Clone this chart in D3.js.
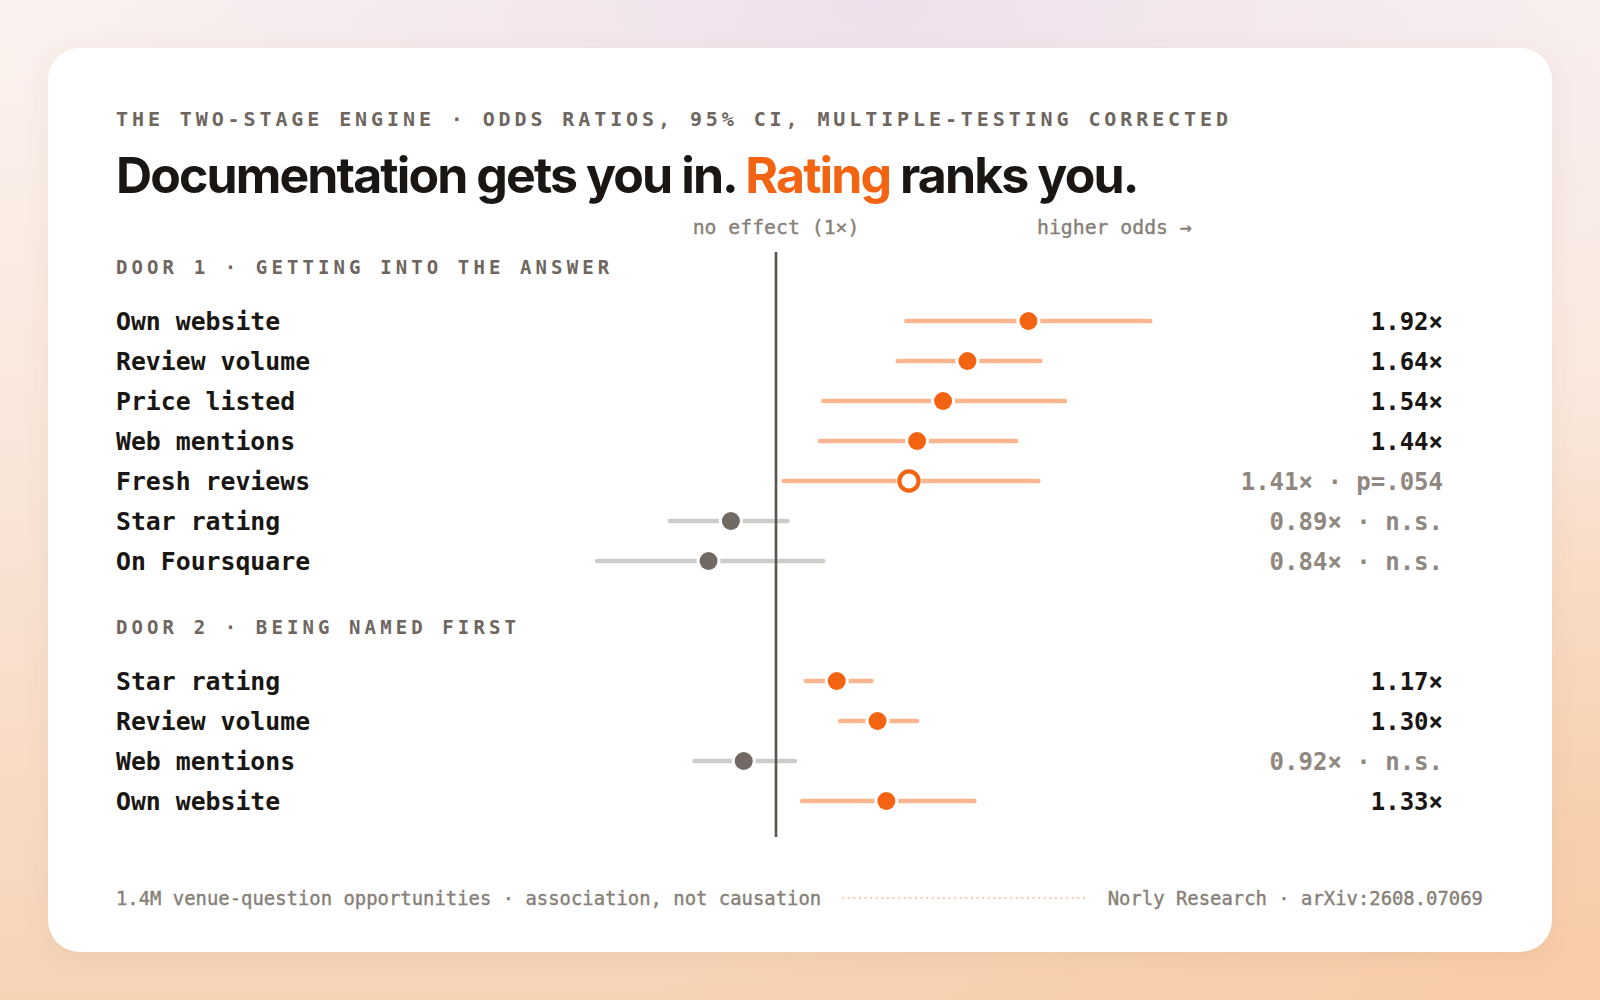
<!DOCTYPE html>
<html>
<head>
<meta charset="utf-8">
<script src="https://cdn.jsdelivr.net/npm/d3@7"></script>
<style>
  html, body { margin: 0; padding: 0; width: 1600px; height: 1000px; overflow: hidden; background: #f8e4d6; }
  svg { display: block; }
</style>
</head>
<body>
<div id="chart"></div>
<script>
// ---------- DATA ----------
const subtitleText = "THE TWO-STAGE ENGINE · ODDS RATIOS, 95% CI, MULTIPLE-TESTING CORRECTED";
const titleParts = ["Documentation gets you in. ", "Rating", " ranks you."];
const axisLabels = ["no effect (1×)", "higher odds →"];
const sectionTitles = ["DOOR 1 · GETTING INTO THE ANSWER", "DOOR 2 · BEING NAMED FIRST"];

const door1Labels = ["Own website", "Review volume", "Price listed", "Web mentions", "Fresh reviews", "Star rating", "On Foursquare"];
const door1OR     = [1.92, 1.64, 1.54, 1.44, 1.41, 0.89, 0.84];
const door1Lo     = [1.40, 1.37, 1.13, 1.12, 1.02, 0.76, 0.63];
const door1Hi     = [2.63, 1.98, 2.11, 1.86, 1.97, 1.03, 1.13];
const door1Status = ["sig", "sig", "sig", "sig", "marginal", "ns", "ns"];
const door1Notes  = ["", "", "", "", "p=.054", "n.s.", "n.s."];

const door2Labels = ["Star rating", "Review volume", "Web mentions", "Own website"];
const door2OR     = [1.17, 1.30, 0.92, 1.33];
const door2Lo     = [1.08, 1.18, 0.81, 1.07];
const door2Hi     = [1.28, 1.44, 1.05, 1.67];
const door2Status = ["sig", "sig", "ns", "sig"];
const door2Notes  = ["", "", "n.s.", ""];

const footerLeft  = "1.4M venue-question opportunities · association, not causation";
const footerRight = "Norly Research · arXiv:2608.07069";

// ---------- BUILD ROWS ----------
const rows = [];
door1Labels.forEach((l, i) => rows.push({ slot: i, label: l, or: door1OR[i], lo: door1Lo[i], hi: door1Hi[i], status: door1Status[i], note: door1Notes[i] }));
door2Labels.forEach((l, i) => rows.push({ slot: 9 + i, label: l, or: door2OR[i], lo: door2Lo[i], hi: door2Hi[i], status: door2Status[i], note: door2Notes[i] }));
const headerSlots = [-1, 8];

// ---------- STYLE ----------
const W = 1600, H = 1000;
const MONO = "'DejaVu Sans Mono', 'Liberation Mono', monospace";
const SANS = "Inter, 'Noto Sans', sans-serif";
const ORANGE = "#f26412", ORANGE_LIGHT = "#fbb691";
const GREY_DOT = "#716a64", GREY_LINE = "#cfcbc7";
const INK = "#191613", MUTED = "#6e665f", SOFT = "#877f77";

const svg = d3.select("#chart").append("svg").attr("width", W).attr("height", H);
const defs = svg.append("defs");

// background gradients
const lg = defs.append("linearGradient").attr("id", "bgLin").attr("x1", 0).attr("y1", 0).attr("x2", 0).attr("y2", 1);
lg.append("stop").attr("offset", "0%").attr("stop-color", "#fbf2ef");
lg.append("stop").attr("offset", "45%").attr("stop-color", "#f9e6da");
lg.append("stop").attr("offset", "100%").attr("stop-color", "#f7d3b6");
const rg = defs.append("radialGradient").attr("id", "bgRad").attr("cx", 0.55).attr("cy", 0).attr("r", 0.55);
rg.append("stop").attr("offset", "0%").attr("stop-color", "#eee0ec").attr("stop-opacity", 0.95);
rg.append("stop").attr("offset", "100%").attr("stop-color", "#eee0ec").attr("stop-opacity", 0);
const rg2 = defs.append("radialGradient").attr("id", "bgRad2").attr("cx", 1).attr("cy", 1).attr("r", 0.6);
rg2.append("stop").attr("offset", "0%").attr("stop-color", "#f8cba4").attr("stop-opacity", 0.9);
rg2.append("stop").attr("offset", "100%").attr("stop-color", "#f8cba4").attr("stop-opacity", 0);

const sh = defs.append("filter").attr("id", "cardShadow").attr("x", -0.1).attr("y", -0.1).attr("width", 1.2).attr("height", 1.25);
sh.append("feDropShadow").attr("dx", 0).attr("dy", 6).attr("stdDeviation", 10)
  .attr("flood-color", "#9a6a48").attr("flood-opacity", 0.10);

svg.append("rect").attr("width", W).attr("height", H).attr("fill", "url(#bgLin)");
svg.append("rect").attr("width", W).attr("height", H).attr("fill", "url(#bgRad)");
svg.append("rect").attr("width", W).attr("height", H).attr("fill", "url(#bgRad2)");

// card
svg.append("rect").attr("x", 48).attr("y", 48).attr("width", 1504).attr("height", 904)
  .attr("rx", 32).attr("fill", "#ffffff").attr("filter", "url(#cardShadow)");

// ---------- SCALES ----------
const zeroX = 776, pxPerLn = 387;
const x = d3.scaleLog().domain([0.5, 2.5])
  .range([zeroX + pxPerLn * Math.log(0.5), zeroX + pxPerLn * Math.log(2.5)]);
const y = d3.scaleLinear().domain([0, 1]).range([321, 361]);

const leftX = 116, valueX = 1443;

// ---------- HEADER ----------
svg.append("text").attr("x", leftX).attr("y", 126)
  .attr("font-family", MONO).attr("font-weight", 700).attr("font-size", 20)
  .attr("letter-spacing", "3.9px").attr("fill", MUTED).text(subtitleText);

const title = svg.append("text").attr("x", leftX).attr("y", 193)
  .attr("font-family", SANS).attr("font-weight", 700).attr("font-size", 50)
  .attr("letter-spacing", "-1.9px").attr("fill", INK);
title.selectAll("tspan").data(titleParts).join("tspan")
  .attr("fill", (d, i) => i === 1 ? ORANGE : INK).text(d => d);

// axis labels
svg.append("text").attr("x", x(1)).attr("y", 233.5).attr("text-anchor", "middle")
  .attr("font-family", MONO).attr("font-size", 19.8).attr("fill", SOFT)
  .attr("stroke", SOFT).attr("stroke-width", 0.4).text(axisLabels[0]);
svg.append("text").attr("x", 1037).attr("y", 233.5)
  .attr("font-family", MONO).attr("font-size", 19.8).attr("fill", SOFT)
  .attr("stroke", SOFT).attr("stroke-width", 0.4).text(axisLabels[1]);

// section headers
svg.selectAll("text.section").data(sectionTitles).join("text").attr("class", "section")
  .attr("x", leftX).attr("y", (d, i) => y(headerSlots[i]) - 7.5)
  .attr("font-family", MONO).attr("font-weight", 700).attr("font-size", 19)
  .attr("letter-spacing", "4.1px").attr("fill", MUTED).text(d => d);

// ---------- CI LINES ----------
const ciG = svg.append("g");
rows.forEach(r => {
  const col = r.status === "ns" ? GREY_LINE : ORANGE_LIGHT;
  ciG.append("line").attr("x1", x(r.lo)).attr("x2", x(r.hi))
    .attr("y1", y(r.slot)).attr("y2", y(r.slot))
    .attr("stroke", col).attr("stroke-width", 4.5).attr("stroke-linecap", "round");
});

// reference line at 1x
svg.append("line").attr("x1", x(1)).attr("x2", x(1))
  .attr("y1", y(-1) - 29).attr("y2", y(12) + 36)
  .attr("stroke", "#5a544e").attr("stroke-width", 2.6);

// dots (white halo + mark)
svg.selectAll("circle.pt").data(rows).join("circle").attr("class", "pt")
  .attr("cx", d => x(d.or)).attr("cy", d => y(d.slot))
  .attr("r", d => d.status === "marginal" ? 12.5 : 12)
  .attr("fill", "#ffffff");
svg.selectAll("circle.pt2").data(rows).join("circle").attr("class", "pt2")
  .attr("cx", d => x(d.or)).attr("cy", d => y(d.slot))
  .attr("r", d => d.status === "marginal" ? 9.6 : 9)
  .attr("fill", d => d.status === "marginal" ? "#ffffff" : (d.status === "ns" ? GREY_DOT : ORANGE))
  .attr("stroke", d => d.status === "marginal" ? ORANGE : "none")
  .attr("stroke-width", d => d.status === "marginal" ? 4.2 : 0);

// row labels
svg.selectAll("text.lab").data(rows).join("text").attr("class", "lab")
  .attr("x", leftX).attr("y", d => y(d.slot) + 9)
  .attr("font-family", MONO).attr("font-weight", 700).attr("font-size", 24.8)
  .attr("fill", INK).text(d => d.label);

// values
svg.selectAll("text.val").data(rows).join("text").attr("class", "val")
  .attr("x", valueX).attr("y", d => y(d.slot) + 8.5).attr("text-anchor", "end")
  .attr("font-family", MONO).attr("font-weight", 700).attr("font-size", 24)
  .attr("fill", d => d.status === "sig" ? INK : "#8f8780")
  .text(d => d3.format(".2f")(d.or) + "×" + (d.note ? " · " + d.note : ""));

// ---------- FOOTER ----------
const fl = svg.append("text").attr("x", leftX).attr("y", 905)
  .attr("font-family", MONO).attr("font-size", 18.9).attr("fill", SOFT)
  .attr("stroke", SOFT).attr("stroke-width", 0.4).text(footerLeft);
const fr = svg.append("text").attr("x", 1483).attr("y", 905).attr("text-anchor", "end")
  .attr("font-family", MONO).attr("font-size", 18.9).attr("fill", SOFT)
  .attr("stroke", SOFT).attr("stroke-width", 0.4).text(footerRight);
const flEnd = leftX + fl.node().getComputedTextLength();
const frStart = 1483 - fr.node().getComputedTextLength();
svg.append("line").attr("x1", flEnd + 22).attr("x2", frStart - 22)
  .attr("y1", 898).attr("y2", 898)
  .attr("stroke", "#f1d2c0").attr("stroke-width", 2.6)
  .attr("stroke-linecap", "round").attr("stroke-dasharray", "0 5.6");
</script>
</body>
</html>
